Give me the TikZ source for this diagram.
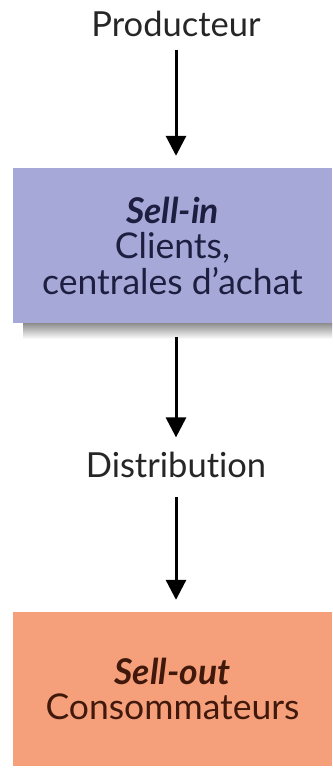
\documentclass[tikz,border=0pt]{standalone}
\usepackage{fontspec}
\setmainfont{Lato}[Ligatures=NoCommon]
\usetikzlibrary{arrows.meta}
\definecolor{boxblue}{RGB}{166,169,216}
\definecolor{boxorange}{RGB}{245,160,122}
\definecolor{txtblue}{RGB}{30,30,65}
\definecolor{txtbrown}{RGB}{65,25,12}
\begin{document}
\begin{tikzpicture}[x=1pt,y=-1pt]
\tikzset{
  lbl/.style={font=\fontsize{34.5}{36}\selectfont, inner sep=0pt, text=black!85},
  arr/.style={line width=3pt, -{Triangle[length=20pt,width=20pt]}},
  stepbox/.style={rectangle, inner sep=0pt, minimum width=319pt, align=center,
    font=\fontsize{35.5}{35.5}\selectfont}
}
\useasboundingbox (0,0) rectangle (332,768);
\fill[white] (0,0) rectangle (332,768);
\node[lbl, anchor=base] (prod) at (176,37) {Producteur};
\node[lbl, anchor=base] (dist) at (176,477) {Distribution};
\shade[top color=black!45, bottom color=white] (23,323) rectangle (332,339);
\node[stepbox, fill=boxblue, minimum height=155pt, text=txtblue] (box1) at (172.5,245.5)
  {\textbf{\textit{Sell-in}}\\Clients,\\centrales d’achat};
\node[stepbox, fill=boxorange, minimum height=154pt, text=txtbrown] (box2) at (172.5,689)
  {\textbf{\textit{Sell-out}}\\Consommateurs};
\draw[arr, shorten <=13pt, shorten >=12pt] (prod.south) -- (prod.south |- box1.north);
\draw[arr, shorten <=14pt, shorten >=14pt] (dist.north |- box1.south) -- (dist.north);
\draw[arr, shorten <=20pt, shorten >=12pt] (dist.south) -- (dist.south |- box2.north);
\end{tikzpicture}
\end{document}
